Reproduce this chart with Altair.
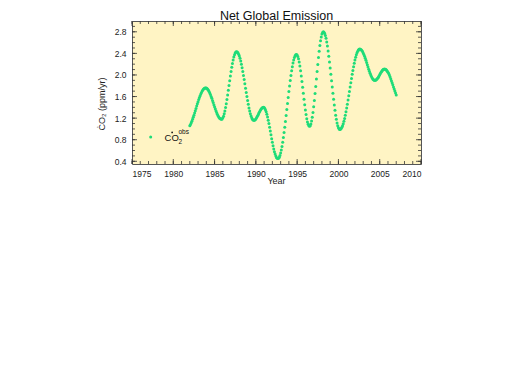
import altair as alt
import pandas as pd

# ---- text ----
chart_title = "Net Global Emission"
x_title = "Year"
y_title = "ĊO₂  (ppm/yr)"
legend_main = "CO"
legend_sub = "2"
legend_sup = "obs"

# ---- data: monthly net global emission (ppm/yr), starting 1982.0 ----
start_year = 1982.0
emission = [
    1.058, 1.083, 1.111, 1.143, 1.178, 1.215, 1.255, 1.295, 1.337, 1.380, 1.423, 1.465,
    1.505, 1.545, 1.582, 1.617, 1.649, 1.677, 1.702, 1.723, 1.739, 1.751, 1.758, 1.760,
    1.757, 1.749, 1.736, 1.718, 1.695, 1.668, 1.637, 1.603, 1.567, 1.529, 1.490, 1.450,
    1.411, 1.373, 1.337, 1.303, 1.272, 1.245, 1.222, 1.204, 1.191, 1.183, 1.180,
    1.186, 1.205, 1.237, 1.279, 1.333, 1.396, 1.467, 1.545, 1.629, 1.716, 1.805, 1.894,
    1.981, 2.065, 2.143, 2.214, 2.277, 2.331, 2.373, 2.405, 2.424, 2.430,
    2.425, 2.410, 2.385, 2.352, 2.309, 2.258, 2.200, 2.135, 2.065, 1.991, 1.914, 1.835,
    1.755, 1.676, 1.599, 1.525, 1.455, 1.390, 1.332, 1.281, 1.238, 1.205, 1.180, 1.165, 1.160,
    1.163, 1.172, 1.186, 1.205, 1.228, 1.253, 1.280, 1.307, 1.332, 1.355, 1.374, 1.388, 1.397, 1.400,
    1.395, 1.379, 1.353, 1.317, 1.273, 1.221, 1.163, 1.099, 1.031, 0.960, 0.890, 0.819,
    0.751, 0.688, 0.629, 0.577, 0.533, 0.497, 0.471, 0.455, 0.450,
    0.457, 0.476, 0.508, 0.553, 0.609, 0.676, 0.753, 0.839, 0.933, 1.033, 1.138, 1.247,
    1.359, 1.471, 1.583, 1.692, 1.797, 1.897, 1.990, 2.077, 2.154, 2.221, 2.277, 2.322,
    2.354, 2.373, 2.380,
    2.371, 2.344, 2.300, 2.240, 2.165, 2.079, 1.982, 1.878, 1.770, 1.660, 1.552, 1.448,
    1.351, 1.265, 1.190, 1.130, 1.086, 1.059, 1.050,
    1.061, 1.093, 1.145, 1.217, 1.306, 1.411, 1.528, 1.655, 1.788, 1.925, 2.062, 2.195,
    2.322, 2.439, 2.544, 2.633, 2.705, 2.757, 2.789, 2.800,
    2.792, 2.769, 2.731, 2.679, 2.613, 2.535, 2.446, 2.348, 2.241, 2.129, 2.013, 1.895,
    1.777, 1.661, 1.549, 1.443, 1.344, 1.255, 1.177, 1.111, 1.059, 1.021, 0.998, 0.990,
    0.994, 1.007, 1.029, 1.059, 1.097, 1.142, 1.194, 1.253, 1.317, 1.386, 1.459, 1.536,
    1.614, 1.695, 1.775, 1.856, 1.934, 2.011, 2.084, 2.153, 2.217, 2.276, 2.328, 2.373,
    2.411, 2.441, 2.463, 2.476, 2.480,
    2.477, 2.468, 2.454, 2.434, 2.409, 2.380, 2.347, 2.310, 2.272, 2.231, 2.190, 2.149,
    2.108, 2.070, 2.033, 2.000, 1.971, 1.946, 1.926, 1.912, 1.903, 1.900,
    1.903, 1.910, 1.923, 1.940, 1.959, 1.982, 2.005, 2.028, 2.051, 2.070, 2.087, 2.100,
    2.107, 2.110,
    2.108, 2.100, 2.088, 2.071, 2.050, 2.025, 1.997, 1.965, 1.931, 1.894, 1.856, 1.817,
    1.778, 1.739, 1.701, 1.664, 1.630,
]

# ---- axes ----
x_domain = [1975, 2010]
y_domain = [0.35, 3.0]
x_major = [1975, 1980, 1985, 1990, 1995, 2000, 2005, 2010]
y_major = [0.4, 0.8, 1.2, 1.6, 2.0, 2.4, 2.8]
x_minor = list(range(1975, 2011))
y_minor = [round(0.4 + 0.1 * i, 1) for i in range(26)]

# legend anchor (data coordinates)
legend_dot = {"year": 1977.26, "value": 0.852}

W, H = 289, 143
GREEN = "#1EDC78"
FONT = "Liberation Sans"
TICK = "#333333"

df = pd.DataFrame({
    "year": [start_year + i / 12 for i in range(len(emission))],
    "value": emission,
})

xs = alt.Scale(domain=x_domain, nice=False, zero=False)
ys = alt.Scale(domain=y_domain, nice=False, zero=False)
x_axis = alt.Axis(values=x_major, format="d", ticks=False, domain=False,
                  grid=False, labelFontSize=8.5, labelFont=FONT,
                  labelColor="#222", labelPadding=5, title=None)
y_axis = alt.Axis(values=y_major, format=".1f", ticks=False, domain=False,
                  grid=False, labelFontSize=8.5, labelFont=FONT,
                  labelColor="#222", labelPadding=6, title=None)


def X(field="year"):
    return alt.X(f"{field}:Q", scale=xs, axis=x_axis, title=None)


def Y(field="value"):
    return alt.Y(f"{field}:Q", scale=ys, axis=y_axis, title=None)


points = alt.Chart(df).mark_circle(size=9, color=GREEN, opacity=1).encode(
    x=X(), y=Y())


def xticks(vals, length, top):
    d = pd.DataFrame({"year": vals})
    if top:
        enc = dict(y=alt.value(0), y2=alt.value(length))
    else:
        enc = dict(y=alt.value(H), y2=alt.value(H - length))
    return alt.Chart(d).mark_rule(color=TICK, strokeWidth=0.8).encode(x=X(), **enc)


def yticks(vals, length, left):
    d = pd.DataFrame({"value": vals})
    if left:
        enc = dict(x=alt.value(0), x2=alt.value(length))
    else:
        enc = dict(x=alt.value(W), x2=alt.value(W - length))
    return alt.Chart(d).mark_rule(color=TICK, strokeWidth=0.8).encode(y=Y(), **enc)


ticks = [
    xticks(x_major, 5, True), xticks(x_major, 5, False),
    xticks(x_minor, 3, True), xticks(x_minor, 3, False),
    yticks(y_major, 5, True), yticks(y_major, 5, False),
    yticks(y_minor, 3, True), yticks(y_minor, 3, False),
]

# legend
leg_dot = alt.Chart(pd.DataFrame([legend_dot])).mark_circle(
    size=9, color=GREEN, opacity=1).encode(x=X(), y=Y())

leg_text = pd.DataFrame({
    "year": [1978.95, 1980.62, 1980.62],
    "value": [0.772, 0.712, 0.905],
    "label": [legend_main, legend_sub, legend_sup],
    "size": [9.5, 6.5, 6.5],
})
leg_labels = alt.Chart(leg_text).mark_text(
    align="left", baseline="alphabetic", font=FONT, color="#111").encode(
    x=X(), y=Y(), text="label:N", size=alt.Size("size:Q", scale=None, legend=None))

leg_deriv = alt.Chart(pd.DataFrame({"year": [1979.86], "value": [0.934]})).mark_circle(
    size=3, color="#111", opacity=1).encode(x=X(), y=Y())

# titles
title_mark = alt.Chart(pd.DataFrame({"t": [chart_title]})).mark_text(
    fontSize=12.5, font=FONT, color="#111", baseline="alphabetic", align="center").encode(
    text="t:N", x=alt.value(W / 2), y=alt.value(-1.5))

ytitle_mark = alt.Chart(pd.DataFrame({"t": [y_title]})).mark_text(
    fontSize=9, font=FONT, color="#222", angle=270, baseline="middle", align="center").encode(
    text="t:N", x=alt.value(-30), y=alt.value(83))

xtitle_mark = alt.Chart(pd.DataFrame({"t": [x_title]})).mark_text(
    fontSize=9, font=FONT, color="#222", baseline="middle", align="center").encode(
    text="t:N", x=alt.value(W / 2), y=alt.value(H + 17))

chart = alt.layer(
    points, *ticks, leg_dot, leg_labels, leg_deriv, title_mark, ytitle_mark, xtitle_mark
).properties(
    width=W, height=H,
    background="white",
    padding={"left": 124, "top": 13, "right": 100, "bottom": 180},
    autosize=alt.AutoSizeParams(type="none"),
).configure_view(
    fill="#FFF4C4", stroke="#555555", strokeWidth=1,
)

chart.save("out.html", embed_options={"renderer": "svg", "actions": False})
